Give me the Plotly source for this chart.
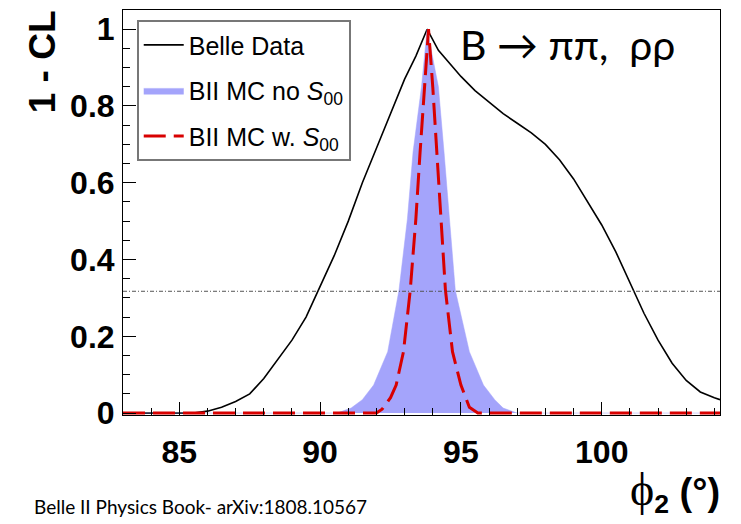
import plotly.graph_objects as go

# ---------------- data ----------------
belle_x = [83.0, 84.0, 85.0, 85.5, 86.0, 86.5, 87.0, 87.5, 88.0, 88.5, 89.0, 89.5,
           90.0, 90.5, 91.0, 91.5, 92.0, 92.5, 93.0, 93.4, 93.8, 94.2, 94.6, 95.0,
           95.5, 96.0, 96.5, 97.0, 97.5, 98.0, 98.5, 99.0, 99.5, 100.0, 100.5, 101.0,
           101.5, 102.0, 102.5, 103.0, 103.5, 104.0, 104.2]
belle_y = [0.0, 0.0, 0.0, 0.0, 0.005, 0.015, 0.03, 0.05, 0.09, 0.14, 0.19, 0.25,
           0.33, 0.41, 0.50, 0.60, 0.69, 0.78, 0.87, 0.93, 1.0, 0.945, 0.91, 0.877,
           0.84, 0.81, 0.78, 0.755, 0.73, 0.70, 0.66, 0.61, 0.55, 0.49, 0.42, 0.34,
           0.26, 0.19, 0.13, 0.085, 0.055, 0.04, 0.035]

mc_no_x = [83.0, 90.6, 91.1, 91.5, 91.9, 92.4, 92.8, 93.1, 93.3, 93.6, 93.8,
           94.2, 94.4, 94.6, 94.8, 95.3, 95.8, 96.2, 96.5, 97.0, 104.2]
mc_no_y = [0.0, 0.0, 0.013, 0.035, 0.073, 0.16, 0.32, 0.506, 0.68, 0.85, 1.0,
           0.85, 0.68, 0.506, 0.32, 0.16, 0.073, 0.035, 0.013, 0.0, 0.0]

mc_w_x = [83.0, 92.0, 92.2, 92.5, 92.7, 92.96, 93.2, 93.4, 93.55, 93.7, 93.85,
          94.0, 94.15, 94.3, 94.45, 94.7, 95.0, 95.3, 95.6, 104.2]
mc_w_y = [0.0, 0.0, 0.01, 0.04, 0.073, 0.16, 0.32, 0.506, 0.68, 0.85, 1.0,
          0.85, 0.68, 0.506, 0.32, 0.16, 0.073, 0.015, 0.0, 0.0]

one_sigma_level = 0.3173
x_ticks = [85, 90, 95, 100]
y_ticks = [0, 0.2, 0.4, 0.6, 0.8, 1]

# ---------------- figure ----------------
fig = go.Figure()
fig.add_trace(go.Scatter(x=belle_x, y=belle_y, mode="lines", name="Belle Data",
                         line=dict(color="black", width=1.6), legendgroup="a"))
fig.add_trace(go.Scatter(x=mc_no_x, y=mc_no_y, mode="lines", fill="tozeroy",
                         fillcolor="#a4a4fb", line=dict(color="#a4a4fb", width=0.5),
                         name="BII MC no <i>S</i><sub>00</sub>", legendgroup="b"))
fig.add_trace(go.Scatter(x=mc_w_x, y=mc_w_y, mode="lines",
                         line=dict(color="#d80000", width=3, dash="22px,8px"),
                         name="BII MC w. <i>S</i><sub>00</sub>", legendgroup="c"))

fig.add_shape(type="line", xref="paper", x0=0, x1=1, yref="y",
              y0=one_sigma_level, y1=one_sigma_level,
              line=dict(color="#555555", width=1, dash="4px,2px,1px,2px"))

tickfont = dict(family="Liberation Sans", size=32, color="black", weight="bold")
fig.update_xaxes(range=[83.0, 104.2], tickvals=x_ticks, ticktext=[str(v) for v in x_ticks],
                 ticks="inside", ticklen=13, tickwidth=1, tickcolor="black",
                 minor=dict(dtick=1, tick0=85, ticks="inside", ticklen=7, tickcolor="black"),
                 showline=True, linecolor="black", linewidth=1, mirror=True,
                 showgrid=False, zeroline=False, tickfont=tickfont, ticklabelstandoff=9)
fig.update_yaxes(range=[-0.005, 1.05], tickvals=y_ticks, ticktext=["0", "0.2", "0.4", "0.6", "0.8", "1"],
                 ticks="inside", ticklen=13, tickwidth=1, tickcolor="black",
                 minor=dict(dtick=0.05, tick0=0, ticks="inside", ticklen=7, tickcolor="black"),
                 showline=True, linecolor="black", linewidth=1, mirror=True,
                 showgrid=False, zeroline=False, tickfont=tickfont, ticklabelstandoff=1)

fig.update_layout(
    width=741, height=524,
    margin=dict(l=123, r=21, t=10, b=109),
    paper_bgcolor="white", plot_bgcolor="white",
    showlegend=True,
    legend=dict(x=0.023, y=0.975, xanchor="left", yanchor="top",
                bgcolor="white", bordercolor="#777777", borderwidth=2,
                font=dict(family="Liberation Sans", size=25, color="black"),
                itemwidth=40, tracegroupgap=10, traceorder="grouped"),
    annotations=[
        dict(text="<b>1 - CL</b>", textangle=-90, xref="paper", yref="paper",
             x=-0.135, y=0.872, xanchor="center", yanchor="middle", showarrow=False,
             font=dict(family="Liberation Sans", size=37, color="black")),
        dict(text='<span style="font-family:Liberation Serif;font-size:46px">ϕ</span><sub><b>2</b></sub> <b>(°)</b>',
             xref="paper", yref="paper", x=1.003, y=-0.19, xanchor="right", yanchor="middle",
             showarrow=False, font=dict(family="Liberation Sans", size=38, color="black")),
        dict(text="B → ππ,  ρρ", xref="paper", yref="paper", x=0.561, y=0.914,
             xanchor="left", yanchor="middle", showarrow=False,
             font=dict(family="Lato", size=41, color="black")),
        dict(text="Belle II Physics Book- arXiv:1808.10567", xref="paper", yref="paper",
             x=-0.153, y=-0.225, xanchor="left", yanchor="middle", showarrow=False,
             font=dict(family="Lato", size=19, color="black")),
    ],
)

fig.write_html("out.html")
